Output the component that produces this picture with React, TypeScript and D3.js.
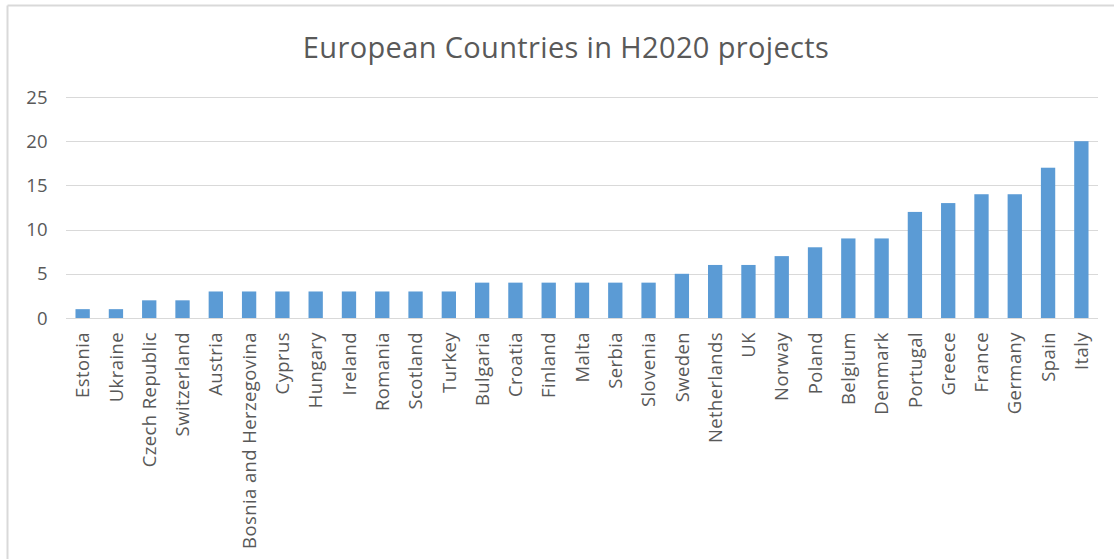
import React from "react";
import * as d3 from "d3";

const countries = ["Estonia","Ukraine","Czech Republic","Switzerland","Austria","Bosnia and Herzegovina","Cyprus","Hungary","Ireland","Romania","Scotland","Turkey","Bulgaria","Croatia","Finland","Malta","Serbia","Slovenia","Sweden","Netherlands","UK","Norway","Poland","Belgium","Denmark","Portugal","Greece","France","Germany","Spain","Italy"];
const projects = [1,1,2,2,3,3,3,3,3,3,3,3,4,4,4,4,4,4,5,6,6,7,8,9,9,12,13,14,14,17,20];
const yTicks = [0,5,10,15,20,25];
const title = "European Countries in H2020 projects";

const W = 1114, H = 559;
const left = 66, right = 1098, top = 97, bottom = 318;
const FONT = "'Open Sans', sans-serif";
const TEXT = "#595959";

export default function App() {
  const x = d3.scaleBand<string>().domain(countries).range([left, right]).paddingInner(0.57).paddingOuter(0.285);
  const y = d3.scaleLinear().domain([0, 25]).range([bottom, top]);
  return (
    <svg width={W} height={H} style={{ position: "absolute", left: 0, top: 0, background: "#fff" }}>
      <line x1={7.5} y1={5.5} x2={W} y2={5.5} stroke="#d9d9d9" strokeWidth={2} />
      <line x1={7.5} y1={5.5} x2={7.5} y2={H} stroke="#d9d9d9" strokeWidth={2} />
      <text x={566} y={58} textAnchor="middle" fontFamily={FONT} fontSize={29} letterSpacing={0.35} fill={TEXT}>{title}</text>
      {yTicks.map(t => (
        <g key={t}>
          <line x1={left} x2={right} y1={Math.round(y(t)) + 0.5} y2={Math.round(y(t)) + 0.5} stroke="#d9d9d9" strokeWidth={1} />
          <text x={47.5} y={y(t)} dy="0.36em" textAnchor="end" fontFamily={FONT} fontSize={18.5} fill={TEXT}>{t}</text>
        </g>
      ))}
      {countries.map((c, i) => (
        <rect key={c} x={x(c)!} y={y(projects[i])} width={x.bandwidth()} height={y(0) - y(projects[i])} fill="#5b9bd5" />
      ))}
      {countries.map(c => {
        const cx = x(c)! + x.bandwidth() / 2;
        return (
          <text key={c} transform={`translate(${cx},332) rotate(-90)`} dy="0.36em" textAnchor="end" fontFamily={FONT} fontSize={18.5} letterSpacing={0.4} fill={TEXT}>{c}</text>
        );
      })}
    </svg>
  );
}
